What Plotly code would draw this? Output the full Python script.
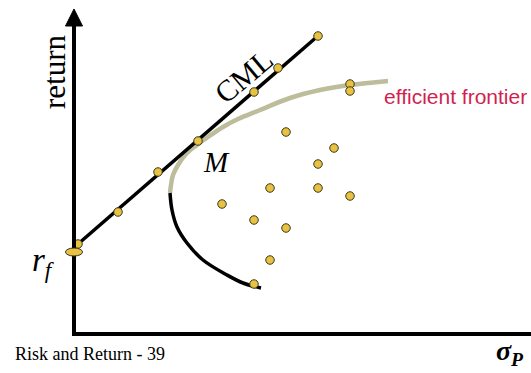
import plotly.graph_objects as go

# ---- data (risk sigma_P, return), arbitrary % units ----
rf = 8.2
cml_sigma = [0.0, 24.5]
cml_return = [8.65, 29.9]

cml_pts_sigma = [0.4, 4.4, 8.4, 12.4, 18.0, 20.4, 24.4]
cml_pts_return = [9.0, 12.2, 16.2, 19.3, 24.2, 26.6, 29.8]

asset_sigma = [21.2, 26.0, 24.4, 19.6, 24.4, 27.6, 14.8, 18.0, 21.2, 19.6, 18.0, 27.6, 27.6]
asset_return = [20.2, 18.6, 17.0, 14.6, 14.6, 13.8, 13.0, 11.4, 10.6, 7.4, 5.0, 25.0, 24.3]

lower_sigma = [9.6, 9.8, 10.3, 11.3, 12.9, 15.3, 16.9, 18.7]
lower_return = [14.1, 12.4, 10.7, 9.1, 7.4, 5.9, 5.1, 4.6]

eff_sigma = [9.6, 9.7, 9.9, 10.4, 11.3, 12.3, 13.4, 14.9, 16.4, 18.6, 21.6, 24.6, 27.6, 31.4]
eff_return = [14.1, 14.9, 15.9, 16.9, 18.1, 18.9, 19.7, 20.7, 21.5, 22.4, 23.6, 24.4, 24.9, 25.3]

DOT = "#E9C33F"
DOT_EDGE = "#3a3525"
BEIGE = "#BDBC9B"
CRIMSON = "#D21F50"
SERIF = "Liberation Serif, Times New Roman, serif"
SANS = "Liberation Sans, Arial, sans-serif"

fig = go.Figure()

fig.add_trace(go.Scatter(x=eff_sigma, y=eff_return, mode="lines",
                         line=dict(color=BEIGE, width=4.5, shape="spline"),
                         hoverinfo="skip"))
fig.add_trace(go.Scatter(x=lower_sigma, y=lower_return, mode="lines",
                         line=dict(color="black", width=3.5, shape="spline"),
                         hoverinfo="skip"))
fig.add_trace(go.Scatter(x=cml_sigma, y=cml_return, mode="lines",
                         line=dict(color="black", width=3.5),
                         hoverinfo="skip"))
fig.add_trace(go.Scatter(x=cml_pts_sigma + asset_sigma,
                         y=cml_pts_return + asset_return, mode="markers",
                         marker=dict(size=8.5, color=DOT,
                                     line=dict(color=DOT_EDGE, width=1)),
                         hoverinfo="skip"))

XR = [-7.4, 45.7]
YR = [-3.9, 33.4]

shapes = [
    dict(type="path", path=f"M 0,30.9 L 0,0 L {XR[1]},0",
         line=dict(color="black", width=4), xref="x", yref="y"),
    dict(type="path", path="M -0.85,30.8 L 0.85,30.8 L 0,32.5 Z",
         fillcolor="black", line=dict(color="black", width=1), xref="x", yref="y"),
    dict(type="circle", x0=-0.85, x1=0.85, y0=rf - 0.4, y1=rf + 0.4,
         fillcolor=DOT, line=dict(color=DOT_EDGE, width=1), xref="x", yref="y"),
]

annotations = [
    dict(x=-2.0, y=26.2, text="return", textangle=-90, showarrow=False,
         font=dict(family=SERIF, size=31, color="black")),
    dict(x=16.9, y=25.8, text="CML", textangle=-40, showarrow=False,
         font=dict(family=SERIF, size=30, color="black")),
    dict(x=38.1, y=23.8, text="efficient frontier", showarrow=False,
         font=dict(family=SANS, size=21, color=CRIMSON)),
    dict(x=14.2, y=17.2, text="<i>M</i>", showarrow=False,
         font=dict(family=SERIF, size=29, color="black")),
    dict(x=-1.7, y=7.2, text="<i>r<sub>f</sub></i>", showarrow=False,
         xanchor="right", font=dict(family=SERIF, size=33, color="black")),
    dict(x=-6.1, y=-2.0, text="Risk and Return - 39", showarrow=False,
         xanchor="left", font=dict(family=SERIF, size=18, color="black")),
    dict(x=43.6, y=-1.8, text="<b><i>σ<sub>P</sub></i></b>", showarrow=False,
         font=dict(family=SERIF, size=28, color="black")),
]

fig.update_layout(
    width=531, height=373,
    margin=dict(l=0, r=0, t=0, b=0),
    paper_bgcolor="white", plot_bgcolor="white",
    showlegend=False,
    xaxis=dict(range=XR, visible=False, fixedrange=True),
    yaxis=dict(range=YR, visible=False, fixedrange=True),
    shapes=shapes, annotations=annotations,
)

fig.write_html("out.html",
               config={"displayModeBar": False},
               post_script="document.body.style.margin='0';document.body.style.overflow='hidden';")
